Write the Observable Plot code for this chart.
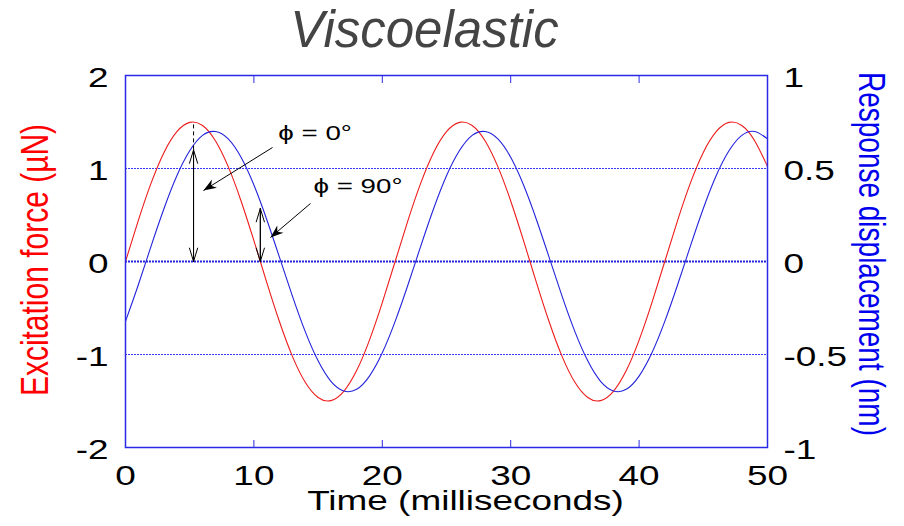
<!DOCTYPE html>
<html>
<head>
<meta charset="utf-8">
<script src="https://cdn.jsdelivr.net/npm/d3@7"></script>
<script src="https://cdn.jsdelivr.net/npm/@observablehq/plot@0.6"></script>
<style>
  body { margin: 0; background: #ffffff; }
</style>
</head>
<body>
<div id="chart"></div>
<script>
// ---- Data ----
const timeMs = [0,1,2,3,4,5,6,7,8,9,10,11,12,13,14,15,16,17,18,19,20,21,22,23,24,25,26,27,28,29,30,31,32,33,34,35,36,37,38,39,40,41,42,43,44,45,46,47,48,49,50];
// Excitation force (µN), left axis
const forceUN = [0,0.442,0.845,1.173,1.396,1.496,1.462,1.299,1.020,0.651,0.224,-0.224,-0.651,-1.020,-1.299,-1.462,-1.496,-1.396,-1.173,-0.845,-0.442,
                 0,0.442,0.845,1.173,1.396,1.496,1.462,1.299,1.020,0.651,0.224,-0.224,-0.651,-1.020,-1.299,-1.462,-1.496,-1.396,-1.173,-0.845,-0.442,
                 0,0.442,0.845,1.173,1.396,1.496,1.462,1.299,1.020];
// Response displacement (nm), right axis
const dispNm = [-0.322,-0.125,0.084,0.285,0.461,0.595,0.678,0.699,0.659,0.560,0.411,0.226,0.021,-0.186,-0.377,-0.534,-0.644,-0.696,-0.687,-0.616,-0.491,
                -0.322,-0.125,0.084,0.285,0.461,0.595,0.678,0.699,0.659,0.560,0.411,0.226,0.021,-0.186,-0.377,-0.534,-0.644,-0.696,-0.687,-0.616,-0.491,
                -0.322,-0.125,0.084,0.285,0.461,0.595,0.678,0.699,0.659];

const xTicks = [0, 10, 20, 30, 40, 50];
const leftTicks = [-2, -1, 0, 1, 2];
const rightTicks = [-1, -0.5, 0, 0.5, 1];
const gridForce = [-1, 1];
const zeroForce = [0];

// annotations
const phaseT = [5.3, 10.5];
const phaseTipForce = [1.2, 0.57];
const peakForce = [1.5];
const phaseLabels = ["ϕ = 0°", "ϕ = 90°"];
const labelT = [11.9, 14.64];
const labelForce = [1.376, 0.806];
const pointerFromT = [11.45, 14.41];
const pointerFromF = [1.226, 0.624];
const pointerToT = [6.07, 11.29];
const pointerToF = [0.763, 0.258];

// nm -> µN axis equivalence (right axis 1 nm sits at left axis 2 µN)
const nmToForceAxis = 2;

// ---- tables ----
const rows = timeMs.map((t, i) => ({t, f: forceUN[i], d: dispNm[i] * nmToForceAxis}));
const phaseRows = phaseT.map((t, i) => ({t, base: 0, tip: phaseTipForce[i]}));
const peakRows = [{t: phaseT[0], a: phaseTipForce[0], b: peakForce[0]}];
const labelRows = phaseLabels.map((s, i) => ({s, t: labelT[i], f: labelForce[i]}));
const pointerRows = pointerFromT.map((t, i) => ({x1: t, y1: pointerFromF[i], x2: pointerToT[i], y2: pointerToF[i]}));

const RED = "#ee1c1c";
const BLUE = "#2424dc";
const FRAME = "#2a2ae6";

function dart(color, context) {
  const m = d3.create("svg:marker")
    .attr("viewBox", "-14 -6 15 12")
    .attr("markerWidth", 15)
    .attr("markerHeight", 12)
    .attr("markerUnits", "userSpaceOnUse")
    .attr("orient", "auto")
    .attr("fill", "black")
    .attr("stroke", "none");
  m.append("path").attr("d", "M0,0L-13,-4.8L-9,0L-13,4.8Z");
  return m.node();
}

const chart = Plot.plot({
  width: 904,
  height: 526,
  marginLeft: 125,
  marginRight: 137,
  marginTop: 75,
  marginBottom: 79,
  x: {domain: [0, 50], axis: null},
  y: {domain: [-2, 2], axis: null},
  style: {fontFamily: "'Liberation Sans', Arial, sans-serif", background: "#ffffff", color: "black"},
  marks: [
    Plot.ruleY(gridForce, {stroke: "#3a3aff", strokeWidth: 1, strokeDasharray: "2,1"}),
    Plot.ruleY(zeroForce, {stroke: BLUE, strokeWidth: 2, strokeDasharray: "2,1"}),
    Plot.tickX(xTicks.slice(1, -1), {x: d => d, stroke: FRAME, insetTop: 365}),
    Plot.tickX(xTicks.slice(1, -1), {x: d => d, stroke: FRAME, insetBottom: 364}),
    Plot.line(rows, {x: "t", y: "f", stroke: RED, strokeWidth: 1.1, curve: "natural"}),
    Plot.line(rows, {x: "t", y: "d", stroke: BLUE, strokeWidth: 1.1, curve: "natural"}),
    Plot.frame({stroke: FRAME, strokeWidth: 1.5}),
    Plot.ruleX(peakRows, {x: "t", y1: "a", y2: "b", stroke: "black", strokeWidth: 1, strokeDasharray: "4,3"}),
    Plot.arrow(phaseRows, {x: "t", y1: "base", y2: "tip", stroke: "black", strokeWidth: 1, headLength: 21, headAngle: 34}),
    Plot.arrow(phaseRows, {x: "t", y1: "tip", y2: "base", stroke: "black", strokeWidth: 1, headLength: 21, headAngle: 34}),
    Plot.link(pointerRows, {x1: "x1", y1: "y1", x2: "x2", y2: "y2", stroke: "black", strokeWidth: 1, markerEnd: dart}),
    Plot.text(labelRows, {x: "t", y: "f", text: "s", textAnchor: "start", lineAnchor: "middle", fontSize: 21, fill: "black"}),
    Plot.axisX({anchor: "bottom", ticks: xTicks, tickSize: 0, tickPadding: 18, tickFormat: d => String(d), fontSize: 28, label: null}),
    Plot.axisY({anchor: "left", ticks: leftTicks, tickSize: 0, tickPadding: 17, tickFormat: d => String(d), fontSize: 28, dy: 3, label: null}),
    Plot.axisY({anchor: "right", ticks: rightTicks.map(v => v * nmToForceAxis), tickSize: 0, tickPadding: 16, tickFormat: d => String(d / nmToForceAxis), fontSize: 28, dy: 3, label: null}),
    Plot.text(["Time (milliseconds)"], {frameAnchor: "bottom", textAnchor: "middle", lineAnchor: "top", dy: 43, dx: 19, fontSize: 28, fill: "black"}),
    Plot.text(["Excitation force (µN)"], {frameAnchor: "left", textAnchor: "middle", lineAnchor: "middle", rotate: -90, dx: -90, dy: -1.5, fontSize: 30, fill: "#ff0000"}),
    Plot.text(["Response displacement (nm)"], {frameAnchor: "right", textAnchor: "middle", lineAnchor: "middle", rotate: 90, dx: 103, dy: -7.5, fontSize: 28, fill: "#0000ee"}),
    Plot.text(["Viscoelastic"], {frameAnchor: "top", textAnchor: "middle", lineAnchor: "middle", dy: -45, dx: -22, fontSize: 51, fontStyle: "italic", fill: "#444444"})
  ]
});

// horizontal stretch of the text (the reference glyphs are wide)
const S = 1.32;
chart.querySelectorAll("text").forEach(t => {
  if (t.textContent === "Viscoelastic") return;
  let tr = t.getAttribute("transform") || "";
  const xa = t.getAttribute("x");
  if (xa != null && /^-?[\d.]+$/.test(xa)) { tr += ` translate(${xa},0)`; t.removeAttribute("x"); }
  const rotated = /rotate\(\s*-?9/.test(tr);
  tr += rotated ? ` scale(1,${S})` : ` scale(${S},1)`;
  t.setAttribute("transform", tr.trim());
});

document.getElementById("chart").appendChild(chart);
</script>
</body>
</html>
